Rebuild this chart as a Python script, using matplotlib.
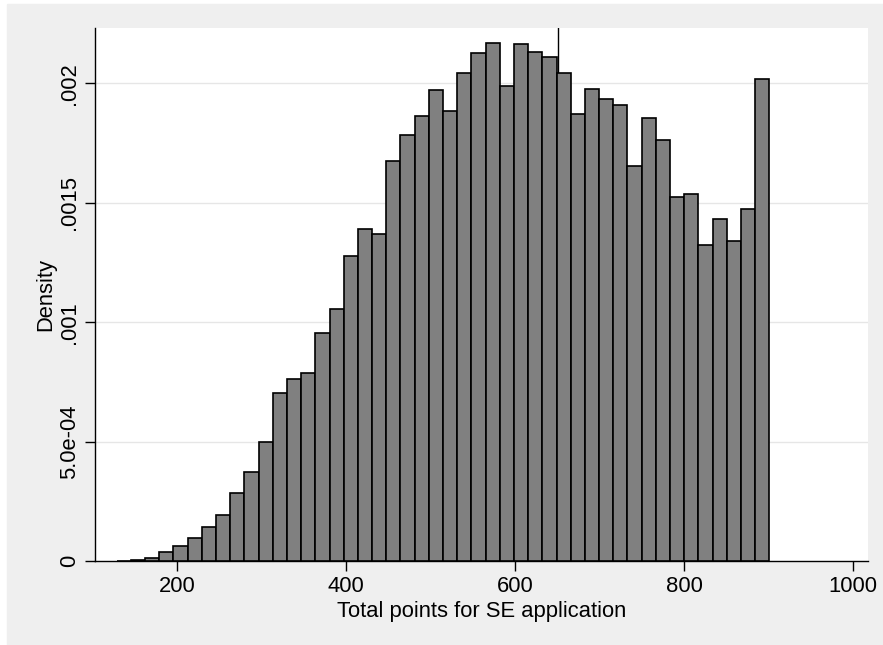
import numpy as np
import matplotlib.pyplot as plt
from matplotlib.patches import Rectangle

plt.rcParams["font.family"] = ["Liberation Sans", "DejaVu Sans"]

# histogram of total points, 46 bins between min and max (density scale)
X_MIN, X_MAX = 128.3, 900.6
DENSITY = [
    0.000002, 0.000003, 0.0000113, 0.0000377, 0.0000628, 0.0000977,
    0.000141, 0.000193, 0.000286, 0.000373, 0.000498, 0.000705,
    0.000761, 0.000787, 0.000953, 0.001056, 0.001278, 0.001389,
    0.001370, 0.001675, 0.001784, 0.001863, 0.001972, 0.001884,
    0.002043, 0.002126, 0.002170, 0.001990, 0.002163, 0.002131,
    0.002111, 0.002044, 0.001870, 0.001977, 0.001933, 0.001908,
    0.001652, 0.001856, 0.001761, 0.001523, 0.001535, 0.001324,
    0.001433, 0.001338, 0.001472, 0.002017,
]
XLINE = 650
X_TICKS = [200, 400, 600, 800, 1000]
Y_TICKS = [0, 0.0005, 0.001, 0.0015, 0.002]
Y_TICKLABELS = ["0", "5.0e-04", ".001", ".0015", ".002"]

BG = "#efefef"
BAR = "#808080"
FS = 15.8

fig = plt.figure(figsize=(8.83, 6.45), dpi=100, facecolor="white")
fig.patches.append(Rectangle((7 / 883, 0), 1, (645 - 4) / 645,
                             transform=fig.transFigure, color=BG, zorder=-10))

ax = fig.add_axes([95 / 883, (645 - 561) / 645, (868 - 95) / 883, (561 - 28) / 645])
ax.set_facecolor("white")

edges = np.linspace(X_MIN, X_MAX, len(DENSITY) + 1)
ax.bar(edges[:-1], DENSITY, width=np.diff(edges), align="edge",
       color=BAR, edgecolor="black", linewidth=1.2, zorder=3)

ax.axvline(XLINE, color="black", lw=1.0, zorder=2)

ax.set_xlim(102.6, 1017.4)
ax.set_ylim(0, 0.0022315)

ax.set_xticks(X_TICKS)
ax.set_xticklabels([str(t) for t in X_TICKS], fontsize=FS)
ax.set_yticks(Y_TICKS)
ax.set_yticklabels(Y_TICKLABELS, fontsize=FS, rotation=90, va="center")
ax.tick_params(length=7, width=1.0, color="black", pad=3.5)

for y in Y_TICKS[1:]:
    ax.axhline(y, color="#e6e6e6", lw=1.0, zorder=1)

for side in ("top", "right"):
    ax.spines[side].set_visible(False)
for side in ("left", "bottom"):
    ax.spines[side].set_linewidth(1.0)
    ax.spines[side].set_color("black")

ax.set_xlabel("Total points for SE application", fontsize=FS, labelpad=3)
ax.set_ylabel("Density", fontsize=FS, labelpad=2)

fig.savefig("out.png", dpi=100, facecolor=fig.get_facecolor())
